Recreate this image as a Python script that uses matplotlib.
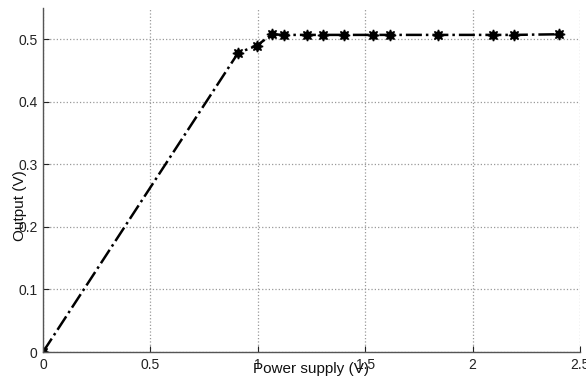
import matplotlib
matplotlib.use("Agg")
import matplotlib.pyplot as plt

plt.rcParams['font.family'] = ['Liberation Sans', 'DejaVu Sans']

supply_v = [0.0, 0.908, 0.996, 1.066, 1.122, 1.228, 1.302, 1.403, 1.535,
            1.615, 1.837, 2.093, 2.194, 2.400]
output_v = [0.0, 0.478, 0.490, 0.508, 0.507, 0.507, 0.507, 0.507, 0.507,
            0.507, 0.507, 0.507, 0.507, 0.508]

xticks = [0, 0.5, 1, 1.5, 2, 2.5]
xtick_labels = ['0', '0.5', '1', '1.5', '2', '2.5']
yticks = [0, 0.1, 0.2, 0.3, 0.4, 0.5]
ytick_labels = ['0', '0.1', '0.2', '0.3', '0.4', '0.5']

fig = plt.figure(figsize=(5.86, 3.79), dpi=100)
ax = fig.add_axes([43 / 586, 1 - 352 / 379, (580 - 43) / 586, (352 - 8) / 379])

ax.plot(supply_v, output_v, color='black', linestyle='-.', lw=1.8,
        marker=(8, 1, 0), markersize=8, markerfacecolor='black',
        markeredgecolor='black')

ax.set_xlim(0, 2.5)
ax.set_ylim(0, 0.55)
ax.set_xticks(xticks)
ax.set_xticklabels(xtick_labels)
ax.set_yticks(yticks)
ax.set_yticklabels(ytick_labels)
ax.tick_params(direction='in', length=4, labelsize=10, colors='#222222', pad=4)
ax.grid(True, linestyle=':', color='#999999', lw=0.9)

for side in ['top', 'right']:
    ax.spines[side].set_visible(False)
for side in ['left', 'bottom']:
    ax.spines[side].set_color('#555555')
    ax.spines[side].set_linewidth(1.0)

fig.text(311 / 586, 1 - 369 / 379, 'Power supply (V)', ha='center', va='center',
         fontsize=11, color='#111111')
fig.text(20 / 586, 1 - 206 / 379, 'Output (V)', ha='center', va='center',
         rotation=90, fontsize=11, color='#111111')

fig.savefig('out.png', dpi=100)
